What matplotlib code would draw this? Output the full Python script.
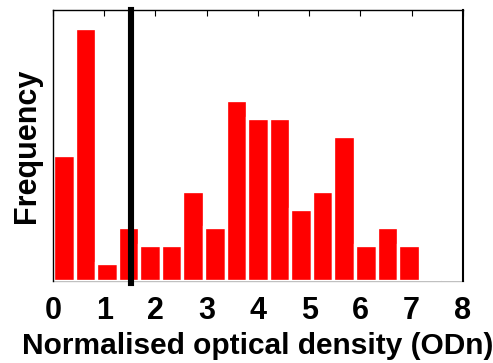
import numpy as np
import matplotlib
matplotlib.use("Agg")
import matplotlib.pyplot as plt

# Histogram counts per bin (19 equal bins spanning 0..8 ODn)
counts = [7, 14, 1, 3, 2, 2, 5, 3, 10, 9, 9, 4, 5, 8, 2, 3, 2, 0, 0]
bin_lo, bin_hi = 0.0, 8.0
threshold = 1.52
xticks = [0, 1, 2, 3, 4, 5, 6, 7, 8]

plt.rcParams['font.family'] = ['Liberation Sans', 'DejaVu Sans']

edges = np.linspace(bin_lo, bin_hi, len(counts) + 1)
width = edges[1] - edges[0]
centers = edges[:-1] + width / 2

fig = plt.figure(figsize=(4.93, 3.63), dpi=100)
ax = fig.add_axes([0.1075, 0.226, 0.8315, 0.7465])

ax.bar(centers, counts, width=width, color='#ff0000',
       edgecolor='#ffffff', linewidth=2.4, zorder=2)
ax.axvline(threshold, ymin=-0.006, ymax=1, color='black', lw=4.4,
           zorder=3, clip_on=False)

ax.set_xlim(bin_lo, bin_hi)
ax.set_ylim(0, 15)
ax.set_xticks(xticks)
ax.set_xticklabels([str(t) for t in xticks], fontsize=22, fontweight='bold')
ax.set_yticks([])
ax.tick_params(axis='x', which='both', direction='in', top=True, bottom=False,
               length=4, width=0.8, pad=11, labelbottom=True)

for side in ['left', 'top', 'right']:
    ax.spines[side].set_color('black')
    ax.spines[side].set_linewidth(1.0)
ax.spines['right'].set_linewidth(1.5)
ax.spines['bottom'].set_color('#c0c0c0')
ax.spines['bottom'].set_linewidth(1.0)
ax.spines['bottom'].set_zorder(1)

ax.set_xlabel('Normalised optical density (ODn)', fontsize=21.5,
              fontweight='bold', labelpad=4)
ax.set_ylabel('Frequency', fontsize=22, fontweight='bold', labelpad=8)

fig.savefig('out.png', dpi=100)
